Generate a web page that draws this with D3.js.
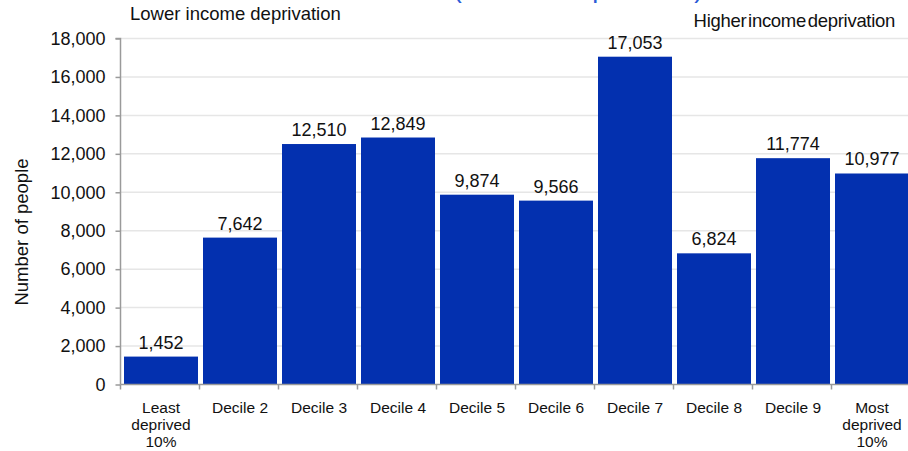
<!DOCTYPE html>
<html>
<head>
<meta charset="utf-8">
<script src="https://cdn.jsdelivr.net/npm/d3@7"></script>
<style>
  html, body { margin: 0; padding: 0; background: #fff; }
  svg { display: block; font-family: "Liberation Sans", Arial, sans-serif; }
</style>
</head>
<body>
<svg id="chart" width="908" height="451"></svg>
<script>
const categories = ["Least deprived 10%", "Decile 2", "Decile 3", "Decile 4", "Decile 5",
                    "Decile 6", "Decile 7", "Decile 8", "Decile 9", "Most deprived 10%"];
const values = [1452, 7642, 12510, 12849, 9874, 9566, 17053, 6824, 11774, 10977];
const yTicks = [0, 2000, 4000, 6000, 8000, 10000, 12000, 14000, 16000, 18000];
const xLabelLines = [["Least", "deprived", "10%"], ["Decile 2"], ["Decile 3"], ["Decile 4"], ["Decile 5"],
                     ["Decile 6"], ["Decile 7"], ["Decile 8"], ["Decile 9"], ["Most", "deprived", "10%"]];
const yTitle = "Number of people";
const leftNote = "Lower income deprivation";
const rightNote = "Higher income deprivation";
const topTitle = "(Income Deprivation)";

const svg = d3.select("#chart");
const fmt = d3.format(",");
const barColor = "#0330AF";

const x = d3.scaleBand().domain(categories).range([120.5, 910.5]).paddingInner(0).paddingOuter(0);
const y = d3.scaleLinear().domain([0, 18000]).range([384.5, 38.5]);

// cut-off title (only its lowest pixels fall inside the picture)
svg.append("text").attr("x", 578).attr("y", -3.5).attr("text-anchor", "middle")
  .attr("font-size", 27).attr("fill", "#2a5bd7").text(topTitle);

// gridlines
svg.append("g").selectAll("line").data(yTicks.filter(d => d > 0)).join("line")
  .attr("x1", 121).attr("x2", 908).attr("y1", d => y(d)).attr("y2", d => y(d))
  .attr("stroke", "#e6e6e6").attr("stroke-width", 1.5);

// bars
const step = x.bandwidth();
svg.append("g").selectAll("rect").data(values).join("rect")
  .attr("x", (d, i) => x(categories[i]) + 3.5)
  .attr("width", step - 5)
  .attr("y", d => y(d))
  .attr("height", d => y(0) - y(d))
  .attr("fill", barColor);

// value labels
svg.append("g").selectAll("text").data(values).join("text")
  .attr("x", (d, i) => x(categories[i]) + 3.5 + (step - 5) / 2)
  .attr("y", d => y(d) - 8)
  .attr("text-anchor", "middle").attr("font-size", 18).attr("fill", "#111")
  .text(d => fmt(d));

// y axis
const yAxis = d3.axisLeft(y).tickValues(yTicks).tickFormat(fmt).tickSize(5).tickPadding(10);
const gy = svg.append("g").attr("transform", "translate(120.5,0)").call(yAxis);
gy.select(".domain").attr("stroke", "#9a9a9a").attr("stroke-width", 1.5).attr("d", "M-5,38.5H0V384.5");
gy.selectAll(".tick line").attr("stroke", "#9a9a9a").attr("stroke-width", 1.5);
gy.selectAll(".tick text").attr("font-size", 18).attr("fill", "#111")
  .attr("font-family", "'Liberation Sans', Arial, sans-serif");

// x axis
const boundaries = categories.map(c => x(c));
const gx = svg.append("g");
gx.append("line").attr("x1", 120.5).attr("x2", 908).attr("y1", 384.5).attr("y2", 384.5)
  .attr("stroke", "#9a9a9a").attr("stroke-width", 1.5);
gx.selectAll("line.t").data(boundaries).join("line").attr("class", "t")
  .attr("x1", d => d).attr("x2", d => d).attr("y1", 384.5).attr("y2", 389.5)
  .attr("stroke", "#9a9a9a").attr("stroke-width", 1.5);
const xl = gx.selectAll("text").data(categories).join("text")
  .attr("text-anchor", "middle").attr("font-size", 15.5).attr("fill", "#111")
  .attr("x", (d, i) => x(d) + 3.5 + (step - 5) / 2)
  .attr("y", 413);
xl.selectAll("tspan").data((d, i) => xLabelLines[i]).join("tspan")
  .attr("x", function() { return d3.select(this.parentNode).attr("x"); })
  .attr("dy", (d, j) => j === 0 ? 0 : 17)
  .text(d => d);

// y title
svg.append("text").attr("transform", "translate(28,232) rotate(-90)")
  .attr("text-anchor", "middle").attr("font-size", 18.5).attr("fill", "#111").text(yTitle);

// notes
svg.append("text").attr("x", 130).attr("y", 20).attr("font-size", 18.5).attr("fill", "#111").text(leftNote);
svg.append("text").attr("x", 895).attr("y", 27).attr("text-anchor", "end").attr("font-size", 18.5)
  .attr("letter-spacing", -0.3).attr("word-spacing", -3).attr("fill", "#111").text(rightNote);
</script>
</body>
</html>
